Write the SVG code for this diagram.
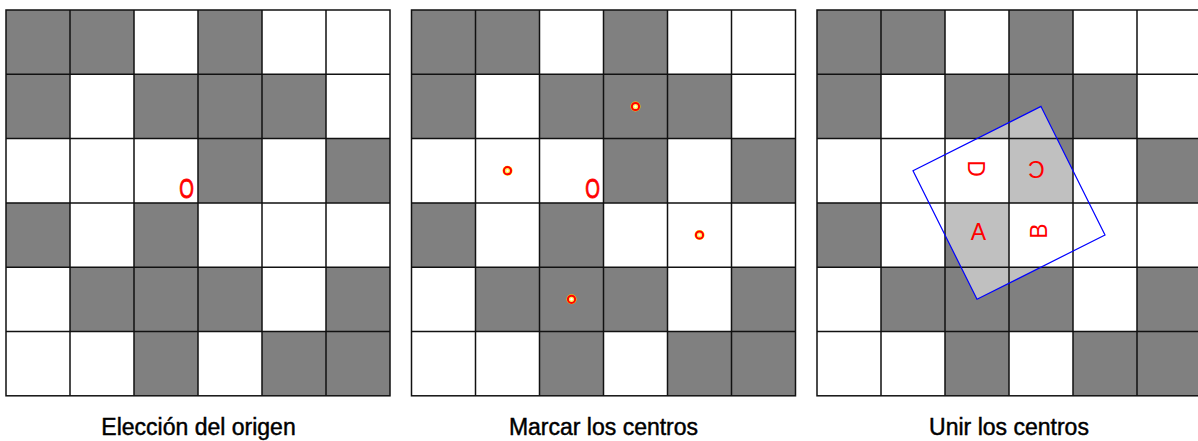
<svg xmlns="http://www.w3.org/2000/svg" xmlns:xlink="http://www.w3.org/1999/xlink" width="1198" height="441" viewBox="0 0 1198 441">
<style>
.dk{fill:#808080}
.lt{fill:#c0c0c0}
.ln{stroke:#111;stroke-width:1.5;fill:none}
.cap{font-family:"Liberation Sans",Arial,sans-serif;font-size:23px;fill:#000;stroke:#000;stroke-width:0.45;text-anchor:middle}
.red{font-family:"Liberation Sans",Arial,sans-serif;fill:#ff0000;text-anchor:middle;dominant-baseline:central}
.o{stroke:#ff0000;stroke-width:0.9}
.sq{fill:none;stroke:#0000ff;stroke-width:1.2}
</style>
<defs>
<g id="cells">
<rect width="384" height="385.8" fill="#fff"/>
<rect class="dk" x="0" y="0" width="64" height="64.3"/>
<rect class="dk" x="64" y="0" width="64" height="64.3"/>
<rect class="dk" x="192" y="0" width="64" height="64.3"/>
<rect class="dk" x="0" y="64.3" width="64" height="64.3"/>
<rect class="dk" x="128" y="64.3" width="64" height="64.3"/>
<rect class="dk" x="192" y="64.3" width="64" height="64.3"/>
<rect class="dk" x="256" y="64.3" width="64" height="64.3"/>
<rect class="dk" x="192" y="128.6" width="64" height="64.3"/>
<rect class="dk" x="320" y="128.6" width="64" height="64.3"/>
<rect class="dk" x="0" y="192.9" width="64" height="64.3"/>
<rect class="dk" x="128" y="192.9" width="64" height="64.3"/>
<rect class="dk" x="64" y="257.2" width="64" height="64.3"/>
<rect class="dk" x="128" y="257.2" width="64" height="64.3"/>
<rect class="dk" x="192" y="257.2" width="64" height="64.3"/>
<rect class="dk" x="320" y="257.2" width="64" height="64.3"/>
<rect class="dk" x="128" y="321.5" width="64" height="64.3"/>
<rect class="dk" x="256" y="321.5" width="64" height="64.3"/>
<rect class="dk" x="320" y="321.5" width="64" height="64.3"/>
</g>
<g id="lines" class="ln">
<rect x="0" y="0" width="384" height="385.8"/>
<path d="M64 0V385.8M128 0V385.8M192 0V385.8M256 0V385.8M320 0V385.8M0 64.3H384M0 128.6H384M0 192.9H384M0 257.2H384M0 321.5H384"/>
</g>
<g id="mark">
<circle r="5" fill="#ffd200"/>
<circle r="3.6" fill="#ffee55" stroke="#ff0000" stroke-width="2"/>
<circle r="1.2" fill="#fff"/>
</g>
<clipPath id="sqclip">
<polygon points="224,96.4 288,225 160,289.3 96,160.7"/>
</clipPath>
</defs>

<g id="panel1">
<g transform="translate(6,10)">
<use xlink:href="#cells"/>
<use xlink:href="#lines"/>
</g>
<text class="red o" font-size="27" transform="translate(186.5,189) scale(0.7,1)">O</text>
<text class="cap" x="198.5" y="435">Elección del origen</text>
</g>

<g id="panel2">
<g transform="translate(411.5,10)">
<use xlink:href="#cells"/>
<use xlink:href="#lines"/>
</g>
<text class="red o" font-size="27" transform="translate(592.5,189) scale(0.7,1)">O</text>
<use xlink:href="#mark" x="635.5" y="106.5"/>
<use xlink:href="#mark" x="507.5" y="170.7"/>
<use xlink:href="#mark" x="699.5" y="235"/>
<use xlink:href="#mark" x="571.5" y="299.3"/>
<text class="cap" x="603.5" y="435">Marcar los centros</text>
</g>

<g id="panel3">
<g transform="translate(817,10)">
<use xlink:href="#cells"/>
<g clip-path="url(#sqclip)">
<rect class="lt" x="128" y="64.3" width="128" height="64.3"/>
<rect class="lt" x="192" y="128.6" width="64" height="64.3"/>
<rect class="lt" x="128" y="192.9" width="64" height="64.3"/>
<rect class="lt" x="128" y="257.2" width="128" height="64.3"/>
</g>
<use xlink:href="#lines"/>
<polygon class="sq" points="224,96.4 288,225 160,289.3 96,160.7"/>
</g>
<text class="red" font-size="23" transform="translate(978.5,232)">A</text>
<text class="red" font-size="23" transform="translate(1038.5,231) rotate(-90)">B</text>
<text class="red" font-size="23" transform="translate(1036.5,169) rotate(180)">C</text>
<text class="red" font-size="23" transform="translate(975.5,168.5) rotate(90)">D</text>
<text class="cap" x="1009" y="435">Unir los centros</text>
</g>
</svg>
